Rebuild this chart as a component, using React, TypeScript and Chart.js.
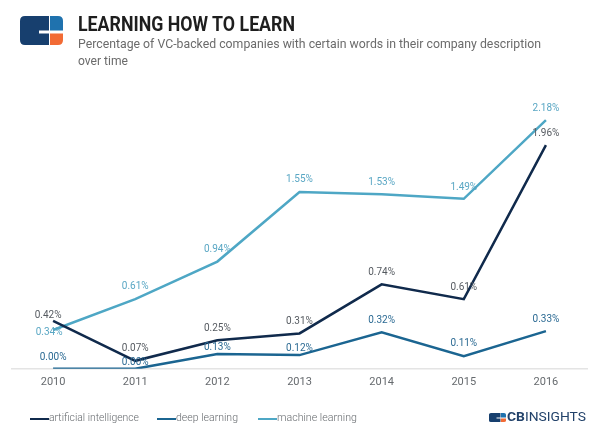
import React, { useEffect, useLayoutEffect, useRef } from "react";
import { Chart, registerables } from "chart.js";

Chart.register(...registerables);

const years = ["2010", "2011", "2012", "2013", "2014", "2015", "2016"];
const aiValues = [0.42, 0.07, 0.25, 0.31, 0.74, 0.61, 1.96];
const dlValues = [0.0, 0.0, 0.13, 0.12, 0.32, 0.11, 0.33];
const mlValues = [0.34, 0.61, 0.94, 1.55, 1.53, 1.49, 2.18];
const seriesNames = ["artificial intelligence", "deep learning", "machine learning"];

const AI_COLOR = "#102a4c";
const DL_COLOR = "#1b6591";
const ML_COLOR = "#4ea7c5";
const FONT = "Roboto, 'Noto Sans', sans-serif";

// label styling: [dx, lift] per point
const labelStyle: Record<number, { color: string; shift: [number, number][] }> = {
  0: {
    color: "#555a60",
    shift: [[-5, 5], [0, 12], [0, 12], [0, 12], [0, 12], [0, 12], [0, 12]],
  },
  1: {
    color: "#2b6a93",
    shift: [[0, 11], [0, 6], [0, 6], [0, 7], [0, 12], [0, 13], [0, 12]],
  },
  2: {
    color: "#5aa7c4",
    shift: [[-4, -2], [0, 13], [0, 12], [0, 12], [0, 12], [0, 11], [0, 12]],
  },
};

const valueLabels = {
  id: "valueLabels",
  afterDatasetsDraw(chart: any) {
    const ctx = chart.ctx;
    ctx.save();
    ctx.font = `10px ${FONT}`;
    ctx.textAlign = "center";
    ctx.textBaseline = "middle";
    chart.data.datasets.forEach((ds: any, di: number) => {
      const meta = chart.getDatasetMeta(di);
      const st = labelStyle[di];
      ctx.fillStyle = st.color;
      meta.data.forEach((pt: any, i: number) => {
        const v = ds.data[i] as number;
        const [dx, lift] = st.shift[i];
        ctx.fillText(v.toFixed(2) + "%", pt.x + dx, pt.y - lift);
      });
    });
    ctx.restore();
  },
};

function Fit({
  text,
  width,
  style,
  children,
}: {
  text?: string;
  width: number;
  style: React.CSSProperties;
  children?: React.ReactNode;
}) {
  const ref = useRef<HTMLSpanElement>(null);
  useLayoutEffect(() => {
    const el = ref.current;
    if (!el) return;
    el.style.transform = "none";
    const w = el.getBoundingClientRect().width;
    if (w > 0) el.style.transform = `scaleX(${width / w})`;
  }, [text, width]);
  return (
    <span
      ref={ref}
      style={{
        position: "absolute",
        whiteSpace: "nowrap",
        transformOrigin: "0 0",
        fontFamily: FONT,
        ...style,
      }}
    >
      {text}
      {children}
    </span>
  );
}

function Logo({ left, top, width, height }: { left: number; top: number; width: number; height: number }) {
  return (
    <svg
      width={width}
      height={height}
      viewBox="0 0 43 29"
      preserveAspectRatio="none"
      style={{ position: "absolute", left, top }}
    >
      <path d="M5 0 H29 V14.5 H19 V17.5 H29 V29 H5 Q0 29 0 24 V5 Q0 0 5 0 Z" fill="#173f6e" />
      <path d="M30 0 H38 Q43 0 43 5 V14.5 H30 Z" fill="#1f72ae" />
      <path d="M30 17.5 H43 V24 Q43 29 38 29 H30 Z" fill="#f26b35" />
    </svg>
  );
}

export default function App() {
  const canvasRef = useRef<HTMLCanvasElement>(null);

  useEffect(() => {
    const canvas = canvasRef.current;
    if (!canvas) return;
    const chart = new Chart(canvas, {
      type: "line",
      data: {
        labels: years,
        datasets: [
          {
            label: seriesNames[0],
            data: aiValues,
            borderColor: AI_COLOR,
            backgroundColor: AI_COLOR,
            borderWidth: 2.5,
            pointRadius: 0,
            tension: 0,
          },
          {
            label: seriesNames[1],
            data: dlValues,
            borderColor: DL_COLOR,
            backgroundColor: DL_COLOR,
            borderWidth: 2.5,
            pointRadius: 0,
            tension: 0,
          },
          {
            label: seriesNames[2],
            data: mlValues,
            borderColor: ML_COLOR,
            backgroundColor: ML_COLOR,
            borderWidth: 2.5,
            pointRadius: 0,
            tension: 0,
          },
        ],
      },
      options: {
        responsive: false,
        animation: false,
        devicePixelRatio: 1,
        layout: { padding: { top: 95, left: 12, right: 13, bottom: 38 } },
        plugins: {
          legend: { display: false },
          tooltip: { enabled: false },
          title: { display: false },
        },
        scales: {
          x: {
            offset: true,
            grid: { display: false, drawTicks: false },
            border: { display: true, color: "#e4e4e4", width: 1.5 },
            ticks: {
              color: "#666a6e",
              font: { family: FONT, size: 11 },
              padding: 7,
            },
          },
          y: {
            display: false,
            min: 0,
            max: 2.4,
          },
        },
      },
      plugins: [valueLabels],
    });
    return () => chart.destroy();
  }, []);

  const legendItems = [
    { color: AI_COLOR, x: 30, tx: 49, w: 90 },
    { color: DL_COLOR, x: 157, tx: 176, w: 62 },
    { color: ML_COLOR, x: 258, tx: 277, w: 80 },
  ];

  return (
    <div
      style={{
        position: "fixed",
        left: 0,
        top: 0,
        width: 600,
        height: 434,
        background: "#ffffff",
        overflow: "hidden",
      }}
    >
      <canvas
        ref={canvasRef}
        width={600}
        height={434}
        style={{ position: "absolute", left: 0, top: 0, width: 600, height: 434 }}
      />
      <Logo left={20} top={16} width={43} height={29} />
      <Fit
        text="LEARNING HOW TO LEARN"
        width={217}
        style={{
          left: 78,
          top: 14,
          fontSize: 20,
          lineHeight: "20px",
          fontWeight: 700,
          color: "#1e1e1e",
        }}
      />
      <Fit
        text="Percentage of VC-backed companies with certain words in their company description"
        width={463}
        style={{ left: 78, top: 35, fontSize: 13, lineHeight: "17px", color: "#6b6b6b" }}
      />
      <Fit
        text="over time"
        width={50}
        style={{ left: 78, top: 52, fontSize: 13, lineHeight: "17px", color: "#6b6b6b" }}
      />
      {legendItems.map((it, i) => (
        <React.Fragment key={i}>
          <div
            style={{
              position: "absolute",
              left: it.x,
              top: 417.5,
              width: 19,
              height: 2.5,
              background: it.color,
            }}
          />
          <Fit
            text={seriesNames[i]}
            width={it.w}
            style={{
              left: it.tx,
              top: 411,
              fontSize: 11,
              lineHeight: "14px",
              fontWeight: 300,
              color: "#666a6e",
            }}
          />
        </React.Fragment>
      ))}
      <Logo left={489} top={413} width={17} height={9} />
      <Fit
        width={79}
        style={{
          left: 507,
          top: 410,
          fontSize: 12.5,
          lineHeight: "14px",
          color: "#22426a",
        }}
      >
        <span style={{ fontWeight: 700 }}>CB</span>
        <span style={{ fontWeight: 400 }}>INSIGHTS</span>
      </Fit>
    </div>
  );
}
